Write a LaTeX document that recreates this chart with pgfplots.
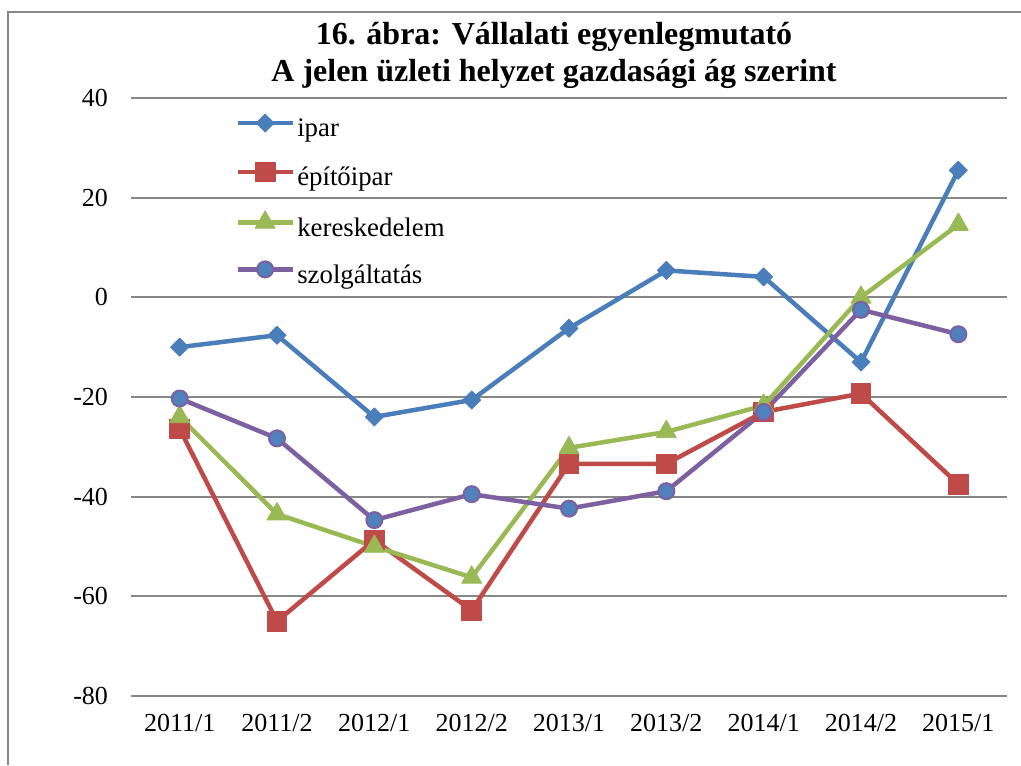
\documentclass[border=0pt]{standalone}
\usepackage{fontspec}
\setmainfont{Liberation Serif}
\usepackage{pgfplots}
\usepackage{pgfplotstable}
\pgfplotsset{compat=1.18}
\definecolor{ipar}{HTML}{4A7EBB}
\definecolor{epito}{HTML}{BE4B48}
\definecolor{keres}{HTML}{98B954}
\definecolor{szolg}{HTML}{7D60A0}
\definecolor{kek}{HTML}{4F81BD}
\definecolor{gridc}{HTML}{878787}

\pgfplotstableread{
x ipar epito keres szolg
0 -10.0 -26.4 -24.0 -20.3
1 -7.6 -65.0 -43.5 -28.3
2 -24.0 -48.7 -50.0 -44.7
3 -20.6 -62.8 -56.2 -39.5
4 -6.2 -33.4 -30.2 -42.4
5 5.4 -33.4 -27.0 -38.9
6 4.1 -23.0 -21.7 -23.0
7 -13.0 -19.3 0.0 -2.5
8 25.5 -37.5 14.6 -7.4
}\data

\begin{document}
\begin{tikzpicture}
\useasboundingbox (0pt,0pt) rectangle (510.5pt,382.5pt);
\begin{axis}[
    at={(65.5pt,34.5pt)}, anchor=south west,
    scale only axis, width=438pt, height=299pt,
    xmin=-0.5, xmax=8.5,
    ymin=-80, ymax=40,
    ytick={-80,-60,...,40},
    xtick={0,...,8},
    xticklabels={2011/1,2011/2,2012/1,2012/2,2013/1,2013/2,2014/1,2014/2,2015/1},
    axis line style={draw=none},
    major tick length=0pt,
    ymajorgrids,
    grid style={gridc, line width=1pt},
    tick label style={font=\fontsize{13}{15}\selectfont},
    /pgf/number format/assume math mode=true,
    yticklabel style={xshift=-8pt},
    xticklabel style={yshift=-5.5pt},
    clip=false,
    legend style={at={(axis description cs:0.1187,0.974)}, anchor=north west,
        draw=none, fill=none, inner sep=0pt, row sep=9.7pt, column sep=1.2pt,
        font=\fontsize{13.4}{15}\selectfont,
        nodes={inner sep=0pt, text height=9pt, text depth=3pt}},
    legend cell align=left,
    legend image code/.code={\draw[mark repeat=2,mark phase=2] plot coordinates {(0pt,3.8pt)(13.75pt,3.8pt)(27.5pt,3.8pt)};},
    every axis plot/.append style={line width=2.25pt, line join=round},
]
\addplot[ipar, mark=square*, mark size=3.2pt, mark options={rotate=45, fill=ipar, draw=ipar, line width=0.4pt}] table[x=x, y=ipar] {\data};
\addlegendentry{ipar}
\addplot[epito, mark=square*, mark size=4.9pt, mark options={fill=epito, draw=epito, line width=0.4pt}] table[x=x, y=epito] {\data};
\addlegendentry{építőipar}
\addplot[keres, mark=triangle*, mark size=5.8pt, mark options={fill=keres, draw=keres, line width=0.4pt}] table[x=x, y=keres] {\data};
\addlegendentry{kereskedelem}
\addplot[szolg, mark=*, mark size=4pt, mark options={fill=kek, draw=szolg, line width=1pt}] table[x=x, y=szolg] {\data};
\addlegendentry{szolgáltatás}
\end{axis}
\draw[gridc, line width=0.75pt] (4pt,0pt) -- (4pt,376.5pt) -- (510.5pt,376.5pt);
\node[anchor=base, font=\bfseries\fontsize{16}{19}\selectfont, inner sep=0pt] at (277pt,360pt) {16. ábra: Vállalati egyenlegmutató};
\node[anchor=base, font=\bfseries\fontsize{16}{19}\selectfont, inner sep=0pt] at (277pt,341.5pt) {A jelen üzleti helyzet gazdasági ág szerint};
\end{tikzpicture}
\end{document}
